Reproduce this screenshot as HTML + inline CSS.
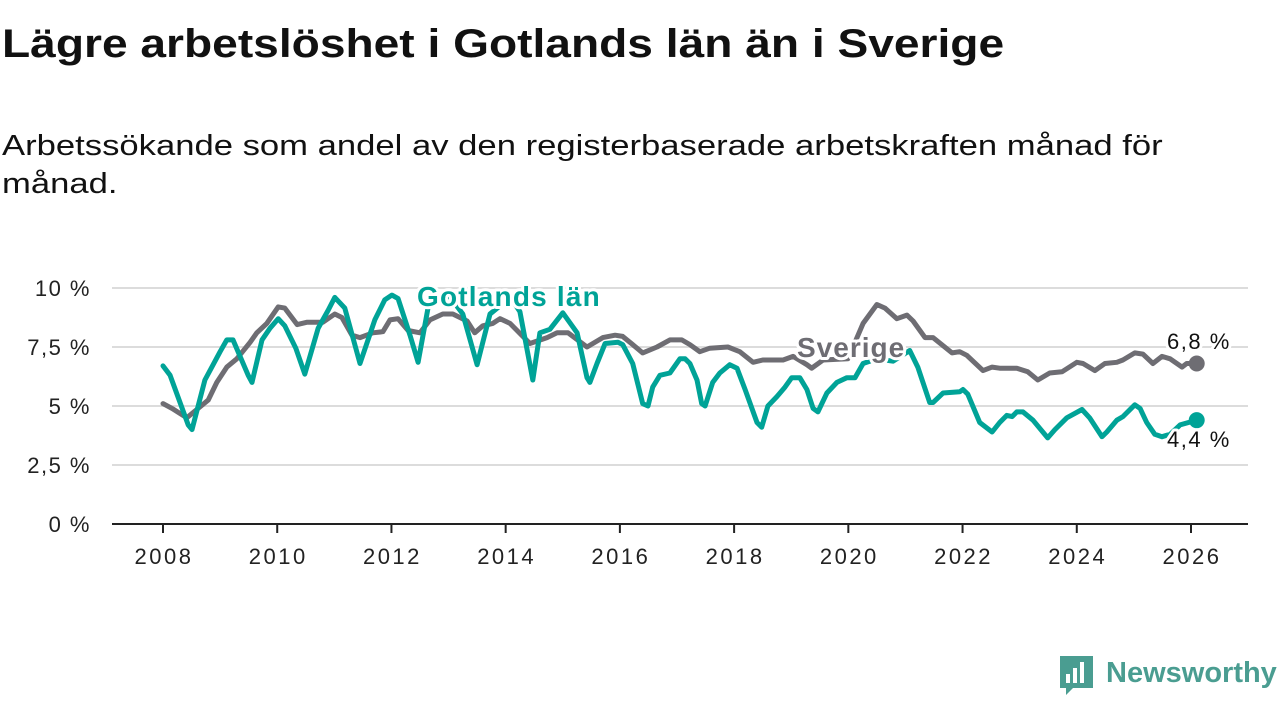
<!DOCTYPE html>
<html><head><meta charset="utf-8">
<style>
body{margin:0;width:1280px;height:720px;background:#fff;overflow:hidden;font-family:"Liberation Sans",sans-serif;}
#title{position:absolute;left:2px;top:22px;font-size:40px;font-weight:bold;color:#111;margin:0;white-space:nowrap;transform:scaleX(1.153);transform-origin:left top;}
#sub{position:absolute;left:2px;top:127px;width:1000px;font-size:29px;line-height:38px;color:#111;margin:0;white-space:nowrap;transform:scaleX(1.194);transform-origin:left top;}
svg{position:absolute;left:0;top:0;}
</style></head><body>
<h1 id="title">Lägre arbetslöshet i Gotlands län än i Sverige</h1>
<p id="sub">Arbetssökande som andel av den registerbaserade arbetskraften månad för<br>månad.</p>
<svg id="chart" width="1280" height="720"></svg>
<script>
const yTicks=[0,2.5,5,7.5,10];
const yTickLabels=["0 %","2,5 %","5 %","7,5 %","10 %"];
const xYears=[2008,2010,2012,2014,2016,2018,2020,2022,2024,2026];
// month index from Jan 2008
const gotMonths=[0,1.5,5.3,6.1,8.8,12,13.4,14.7,17.9,18.7,20.8,22.5,24.2,25.6,27.9,29.8,32.6,34.7,36.1,38.2,41.4,44.5,46.6,48.1,49.4,51.9,53.6,56,60,63,66,68.7,73,75,77.7,79.2,81.3,84,87,89.1,89.7,91.2,92.9,95.6,96.6,98.7,100.8,101.9,102.9,104.4,106.5,108.6,109.7,110.7,112.2,113.2,113.9,115.5,117,119.1,120.6,122.3,124.8,125.8,127.1,129,130.7,132.1,133.8,135.3,136.6,137.6,139.5,141.6,143.7,145.4,147.1,150,153.4,156.9,158.6,161.1,161.8,163.9,167.4,168.1,169.1,171.6,174.2,175.8,177.3,178.4,179.4,180.7,182.8,185.9,187.4,189.9,193.1,194.7,197.3,198.3,200.4,201.7,204.2,205.3,206.7,208.4,209.9,211.6,213.7,217.2];
const gotValues=[6.7,6.3,4.2,4.0,6.1,7.3,7.8,7.8,6.3,6.0,7.8,8.3,8.7,8.4,7.45,6.35,8.3,9.05,9.6,9.15,6.8,8.65,9.5,9.7,9.55,8.0,6.85,9.5,9.7,8.9,6.75,8.9,9.6,9.0,6.1,8.1,8.25,8.95,8.1,6.2,6.0,6.8,7.65,7.7,7.6,6.8,5.1,5.0,5.8,6.3,6.4,7.0,7.0,6.8,6.1,5.1,5.0,6.0,6.4,6.75,6.6,5.7,4.3,4.1,5.0,5.4,5.8,6.2,6.2,5.7,4.9,4.75,5.55,6.0,6.2,6.2,6.8,7.0,6.9,7.35,6.65,5.15,5.15,5.55,5.6,5.7,5.5,4.3,3.9,4.3,4.6,4.55,4.75,4.75,4.4,3.65,4.0,4.5,4.85,4.5,3.7,3.9,4.4,4.55,5.05,4.9,4.3,3.8,3.7,3.8,4.2,4.4];
const sweMonths=[0,1.9,5,7.1,9.5,11.3,13.4,15.5,18.3,19.7,21.8,24.2,25.6,28.2,30.3,33.6,36.1,37.6,39.7,41.4,44.1,46.2,47.7,49.4,51.5,54,56.1,58.8,60.9,63.9,65.5,67.2,69.3,70.8,72.9,77.1,80.7,82.8,85.1,89.1,92.4,95,96.6,98.7,100.8,103.8,106.5,109,110.7,112.8,114.9,118.7,121.2,124,126,130.3,132.4,135.3,136.3,138.7,143.9,147.1,150,151.7,154.2,156.3,157.6,160.1,161.8,165.8,167.4,168.9,172.3,174.2,175.8,179.4,181.7,183.8,186.3,188.9,192,193.3,195.8,197.9,200.4,201.7,204.2,205.9,208,209.9,211.6,214.1,215.1,217.2];
const sweValues=[5.1,4.9,4.5,4.85,5.25,6.0,6.65,7.0,7.7,8.1,8.5,9.2,9.15,8.45,8.55,8.55,8.9,8.75,8.0,7.9,8.1,8.15,8.65,8.7,8.2,8.1,8.65,8.9,8.9,8.6,8.1,8.4,8.5,8.7,8.5,7.65,7.9,8.1,8.1,7.5,7.9,8.0,7.95,7.6,7.25,7.5,7.8,7.8,7.6,7.3,7.45,7.5,7.3,6.85,6.95,6.95,7.1,6.75,6.6,6.95,7.0,8.5,9.3,9.15,8.7,8.85,8.6,7.9,7.9,7.25,7.3,7.15,6.5,6.65,6.6,6.6,6.45,6.1,6.4,6.45,6.85,6.8,6.5,6.8,6.85,6.95,7.25,7.2,6.8,7.1,7.0,6.65,6.8,6.8];
const NS="http://www.w3.org/2000/svg";
const svg=document.getElementById('chart');
const x=m=>163+m*(1191-163)/216;
const y=v=>524-v*23.6;
function mk(t,a,p){const e=document.createElementNS(NS,t);for(const k in a)e.setAttribute(k,a[k]);(p||svg).appendChild(e);return e;}
yTicks.forEach((t,i)=>{
  if(t>0){const g=mk('line',{x1:112,x2:1248,y1:y(t),y2:y(t),stroke:'#dcdcdc','stroke-width':2});
  
  }
  const l=mk('text',{x:91,y:y(t)+8,'text-anchor':'end','font-size':22,'letter-spacing':1.5,fill:'#222','font-family':'Liberation Sans, sans-serif'});
  l.textContent=yTickLabels[i];
  
  
});
const ax=mk('line',{x1:112,x2:1248,y1:524,y2:524,stroke:'#222','stroke-width':2});


xYears.forEach(yr=>{
  const px=x((yr-2008)*12);
  const tk=mk('line',{x1:px,x2:px,y1:524,y2:533,stroke:'#222','stroke-width':2});
  
  
  const l=mk('text',{x:px+1,y:564,'text-anchor':'middle','font-size':22,'letter-spacing':2.5,fill:'#222','font-family':'Liberation Sans, sans-serif'});
  l.textContent=yr;
  
  
});
function line(ms,vs,col,name){
  const d=ms.map((m,i)=>(i?'L':'M')+x(m).toFixed(1)+','+y(vs[i]).toFixed(1)).join('');
  const p=mk('path',{d:d,fill:'none',stroke:col,'stroke-width':5,'stroke-linejoin':'round','stroke-linecap':'round'});
  
  
  const n=ms.length-1;
  const c=mk('circle',{cx:x(ms[n]),cy:y(vs[n]),r:8,fill:col});
  
  
}
line(sweMonths,sweValues,'#6e6d73','line-sverige');
line(gotMonths,gotValues,'#00a397','line-gotland');
function label(tx,px,py,col,size,bold,ls,name){
  const t=mk('text',{x:px,y:py,'font-size':size,'font-weight':bold?'bold':'normal','letter-spacing':ls,fill:col,stroke:'#fff','stroke-width':6,'paint-order':'stroke','stroke-linejoin':'round','font-family':'Liberation Sans, sans-serif'});
  t.textContent=tx;
  
  
}
label('Gotlands län',417,306,'#00a397',28,true,1.2,'label-gotland');
label('Sverige',797,357,'#6e6d73',28,true,1,'label-sverige');
label('6,8 %',1167,349,'#111',22,false,1.5,'end-value-sverige');
label('4,4 %',1167,447,'#111',22,false,1.5,'end-value-gotland');
// logo
const lg=mk('g',{});


mk('path',{d:'M1060,656h33v32h-20l-7,7v-7h-6z',fill:'#4a9d91'},lg);
mk('rect',{x:1066,y:674,width:4,height:9,fill:'#fff'},lg);
mk('rect',{x:1073,y:668,width:4,height:15,fill:'#fff'},lg);
mk('rect',{x:1080,y:662,width:4,height:21,fill:'#fff'},lg);
const lt=mk('text',{x:1106,y:682,'font-size':29,'font-weight':'bold',fill:'#4a9d91','font-family':'Liberation Sans, sans-serif'},lg);
lt.textContent='Newsworthy';
</script>
</body></html>
